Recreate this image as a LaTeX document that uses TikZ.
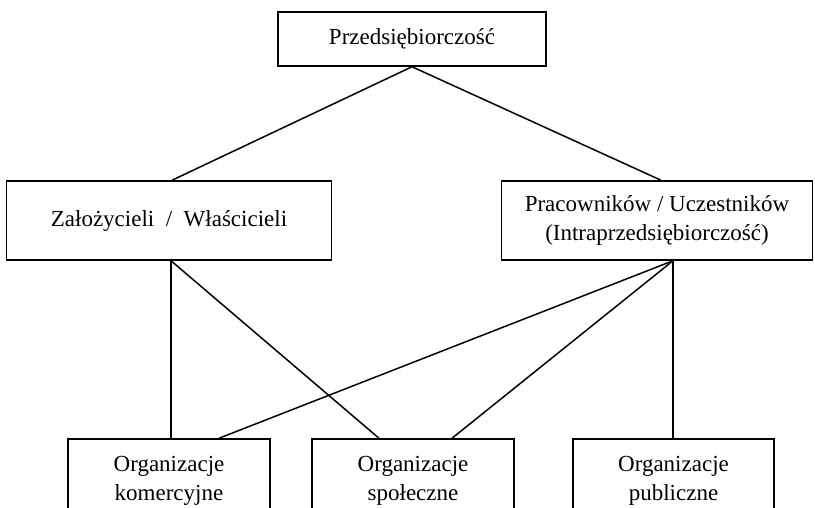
\documentclass[tikz,border=0pt]{standalone}
\usepackage{fontspec}
\setmainfont{Liberation Serif}
\begin{document}
\begin{tikzpicture}[x=1pt,y=-1pt,
  box/.style={draw,line width=1.5pt,inner sep=0pt,align=center,
    font=\fontsize{23}{29}\selectfont},
  link/.style={line width=1.5pt}]
\useasboundingbox (0,0) rectangle (815,508);
% hierarchy boxes
\node[box,minimum width=268pt,minimum height=54pt] (top) at (412,39) {Przedsiębiorczość};
\node[box,minimum width=325pt,minimum height=79pt] (left) at (169,220.5) {Założycieli\ \ /\ \ Właścicieli};
\node[box,minimum width=311pt,minimum height=79pt] (right) at (657,220.5) {Pracowników / Uczestników\\(Intraprzedsiębiorczość)};
\node[box,minimum width=202pt,minimum height=84pt] (kom) at (169,481) {Organizacje\\komercyjne};
\node[box,minimum width=202pt,minimum height=84pt] (spo) at (413,481) {Organizacje\\społeczne};
\node[box,minimum width=201pt,minimum height=84pt] (pub) at (673.5,481) {Organizacje\\publiczne};
% junction points on the lower edges of the middle boxes
\coordinate (lb) at ([xshift=2pt]left.south);
\coordinate (rb) at ([xshift=16pt]right.south);
% connectors
\draw[link] (top.south) -- ([xshift=3pt]left.north);
\draw[link] (top.south) -- ([xshift=4pt]right.north);
\draw[link] (lb) -- (lb |- kom.north);
\draw[link] (lb) -- ([xshift=-34pt]spo.north);
\draw[link] (rb) -- ([xshift=50pt]kom.north);
\draw[link] (rb) -- ([xshift=39pt]spo.north);
\draw[link] (rb) -- (rb |- pub.north);
\end{tikzpicture}
\end{document}
